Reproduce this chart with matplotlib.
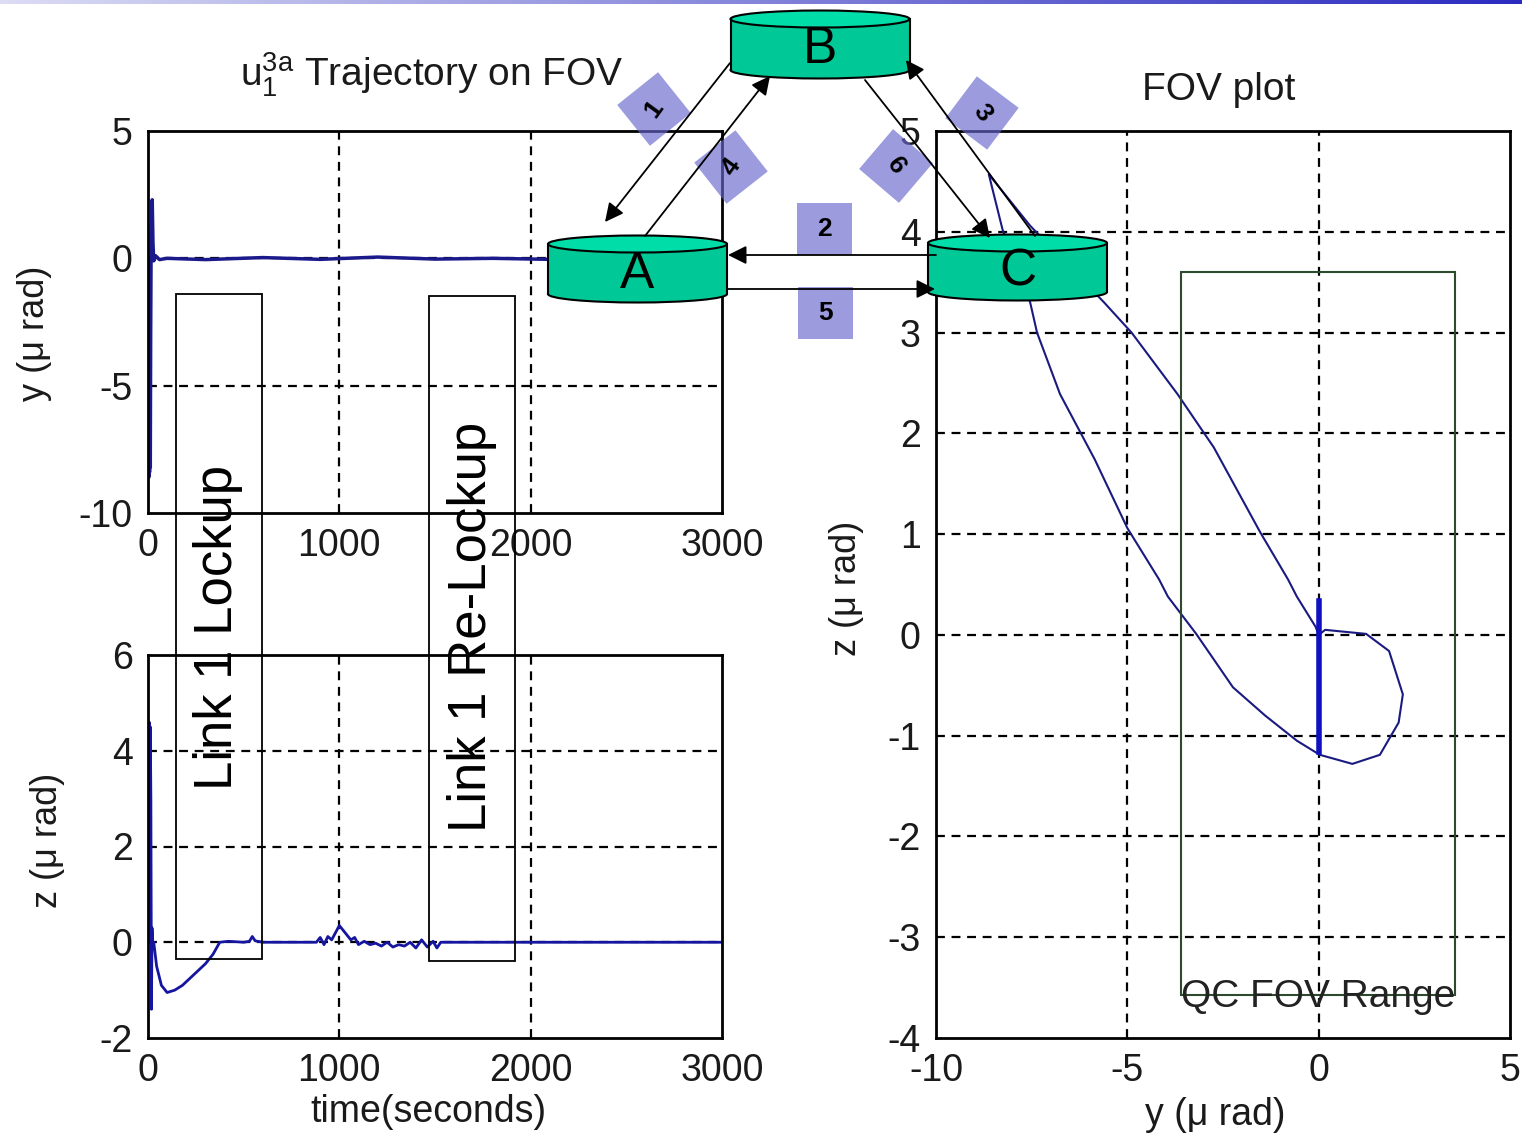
"""
FOV trajectory plots with the A/B/C link diagram laid over them.
"""
import numpy as np
import matplotlib.pyplot as plt
from matplotlib.patches import Rectangle, Ellipse, RegularPolygon
from matplotlib.colors import LinearSegmentedColormap

plt.rcParams['font.family'] = ['Liberation Sans', 'DejaVu Sans']
plt.rcParams['mathtext.fontset'] = 'custom'
plt.rcParams['mathtext.rm'] = 'Liberation Sans'
plt.rcParams['axes.unicode_minus'] = False

# y trajectory vs time
t_y = [0, 4, 6, 8, 10, 12, 14, 16, 18, 22, 26, 30, 40, 60, 100, 300, 600, 900,
       1200, 1500, 1800, 2100, 2400, 2700, 3000]
y_t = [0, -8.6, -4.3, -8.4, -4.6, -8.2, -3.0, 0.0, 1.2, 2.3, 0.6, -0.1, 0.1,
       -0.05, 0.0, -0.05, 0.03, -0.04, 0.05, -0.03, 0.0, -0.04, 0.02, 0.0, 0.0]

# z trajectory vs time
t_z = [0, 6, 9, 12, 15, 18, 21, 24, 30, 45, 70, 100, 140, 180, 220, 260, 300,
       340, 375, 420, 500, 530, 545, 560, 600, 880, 900, 920, 940, 960, 980,
       1000, 1020, 1040, 1060, 1080, 1100, 1130, 1160, 1190, 1220, 1250, 1280,
       1310, 1340, 1370, 1400, 1430, 1460, 1490, 1510, 1530, 3000]
z_t = [0, 4.6, 2.9, 4.5, 3.0, -1.4, 0.3, 0.0, 0.0, -0.5, -0.9, -1.05, -1.0,
       -0.9, -0.75, -0.6, -0.45, -0.25, 0.0, 0.02, 0.0, 0.02, 0.12, 0.03, 0.0,
       0.0, 0.1, -0.05, 0.12, 0.05, 0.2, 0.35, 0.25, 0.15, 0.05, 0.1, -0.05,
       0.02, -0.05, -0.02, -0.08, 0.0, -0.1, -0.05, -0.08, 0.0, -0.12, 0.05,
       -0.1, 0.02, -0.12, 0.0, 0.0]

# FOV path (y, z)
fov_y = [0.0, 0.17, 1.24, 1.84, 2.2, 2.09, 1.6, 0.88, 0.03, -0.57, -1.4, -2.24,
         -3.2, -3.94, -4.17, -5.0, -5.85, -6.76, -7.36, -7.54, -8.26, -8.62,
         -7.54, -5.61, -4.89, -3.69, -2.74, -1.53, -0.8, -0.57, -0.08, 0.0]
fov_z = [0.0, 0.05, 0.01, -0.16, -0.59, -0.87, -1.19, -1.28, -1.19, -1.05,
         -0.8, -0.52, 0.01, 0.38, 0.55, 1.06, 1.74, 2.39, 3.0, 3.3, 4.02, 4.57,
         4.06, 3.3, 3.0, 2.39, 1.86, 1.02, 0.55, 0.38, 0.08, 0.0]
jitter_y = [0, 0]
jitter_z = [0.34, -1.16]
qc_y = [-3.6, 3.55]
qc_z = [-3.57, 3.6]

W, H = 1522, 1141
fig = plt.figure(figsize=(15.22, 11.41), dpi=100)


def box(l, t, r, b):
    return [l / W, 1 - b / H, (r - l) / W, (b - t) / H]


def ftext(x, y, s, **kw):
    fig.text(x / W, 1 - y / H, s, ha='center', va='center', color='#1a1a1a', **kw)


DASH = (0, (4, 3))


def style(ax, xt, yt, xg, yg):
    ax.set_xticks(xt)
    ax.set_yticks(yt)
    ax.tick_params(length=0, labelsize=27, pad=11, colors='#1a1a1a')
    for s in ax.spines.values():
        s.set_linewidth(2)
    for v in xg:
        ax.axvline(v, color='k', lw=1.6, ls=DASH, zorder=1)
    for v in yg:
        ax.axhline(v, color='k', lw=1.6, ls=DASH, zorder=1)


ax1 = fig.add_axes(box(148, 131, 722, 513))
ax1.plot(t_y, y_t, color='#1a1a8c', lw=2.5, zorder=2)
ax1.set_xlim(0, 3000)
ax1.set_ylim(-10, 5)
style(ax1, [0, 1000, 2000, 3000], [-10, -5, 0, 5], [1000, 2000], [-5, 0])

ax2 = fig.add_axes(box(148, 655, 722, 1038))
ax2.plot(t_z, z_t, color='#1515a0', lw=2, zorder=2)
ax2.set_xlim(0, 3000)
ax2.set_ylim(-2, 6)
style(ax2, [0, 1000, 2000, 3000], [-2, 0, 2, 4, 6], [1000, 2000], [0, 2, 4])

ax3 = fig.add_axes(box(936, 131, 1510, 1038))
ax3.plot(fov_y, fov_z, color='#1a1a80', lw=1.5, zorder=2)
ax3.plot(jitter_y, jitter_z, color='#1010c0', lw=4, zorder=2)
ax3.add_patch(Rectangle((qc_y[0], qc_z[0]), qc_y[1] - qc_y[0], qc_z[1] - qc_z[0],
                        fill=False, ec='#2e4a2e', lw=1.5, zorder=2))
ax3.text(qc_y[0], -3.59, 'QC FOV Range', fontsize=28, color='#222222',
         ha='left', va='center', zorder=3)
ax3.set_xlim(-10, 5)
ax3.set_ylim(-4, 5)
style(ax3, [-10, -5, 0, 5], list(range(-4, 6)), [-5, 0], list(range(-3, 5)))

ftext(432, 75, r'$\mathregular{u_1^{3a}}$ Trajectory on FOV', fontsize=28)
ftext(1219, 90, 'FOV plot', fontsize=28)
ftext(35, 333, 'y (\u03bc rad)', fontsize=26, rotation=90)
ftext(48, 840, 'z (\u03bc rad)', fontsize=26, rotation=90)
ftext(847, 588, 'z (\u03bc rad)', fontsize=26, rotation=90)
ftext(428, 1112, 'time(seconds)', fontsize=27)
ftext(1215, 1115, 'y (\u03bc rad)', fontsize=27)

# gradient bar along the top edge
bar = fig.add_axes([0, 1 - 4 / H, 1, 4 / H])
bar.imshow(np.linspace(0, 1, 256)[None, :], aspect='auto',
           cmap=LinearSegmentedColormap.from_list('b', ['#dcdcf5', '#2b2bc0']))
bar.axis('off')

# diagram overlay in pixel coordinates
ov = fig.add_axes([0, 0, 1, 1])
ov.set_xlim(0, W)
ov.set_ylim(H, 0)
ov.axis('off')
ov.patch.set_alpha(0)

# link boxes
for (l, t, w, h), txt, cx in [((176, 294, 86, 665), 'Link 1 Lockup', 218),
                              ((429, 296, 86, 665), 'Link 1 Re-Lockup', 472)]:
    ov.add_patch(Rectangle((l, t), w, h, fill=False, ec='k', lw=1.3))
    ov.text(cx, 627, txt, rotation=90, fontsize=38, ha='center', va='center')

# nodes: name, centre x, top y, bottom y
nodes = [('A', 637.5, 244, 294), ('B', 820, 19, 70), ('C', 1017.5, 243, 292)]
for name, cx, top, bot in nodes:
    w, eh = 179, 17
    ov.add_patch(Ellipse((cx, bot), w, eh, fc='#00c896', ec='k', lw=1.5))
    ov.add_patch(Rectangle((cx - w / 2, top), w, bot - top, fc='#00c896', ec='none'))
    ov.plot([cx - w / 2, cx - w / 2], [top, bot], color='k', lw=1.5)
    ov.plot([cx + w / 2, cx + w / 2], [top, bot], color='k', lw=1.5)
    ov.add_patch(Ellipse((cx, top), w, eh, fc='#00dda8', ec='k', lw=1.5))
    ov.text(cx, (top + bot) / 2 + 5, name, fontsize=37, ha='center', va='center')

arrows = [((730, 63), (605, 222)), ((645, 236), (770, 76)),
          ((1035, 236), (906, 60)), ((865, 80), (990, 238)),
          ((936, 255), (728, 255)), ((728, 289), (935, 289))]
for start, end in arrows:
    ov.annotate('', xy=end, xytext=start,
                arrowprops=dict(arrowstyle='-|>', color='k', lw=1.3,
                                mutation_scale=28, shrinkA=0, shrinkB=0))

tag_fc = '#6666cc'
for lab, cx, cy, ori, rot in [('1', 654, 109, 0.11, 54), ('4', 731, 167, 0.12, 54),
                              ('3', 982, 113, -0.14, -54), ('6', 896, 166, -0.08, -54)]:
    ov.add_patch(RegularPolygon((cx, cy), 4, radius=37, orientation=ori,
                                fc=tag_fc, ec='none', alpha=0.65))
    ov.text(cx, cy, lab, rotation=rot, fontsize=19, fontweight='bold',
            ha='center', va='center')
for lab, l, t in [('2', 797, 203), ('5', 798, 287)]:
    ov.add_patch(Rectangle((l, t), 55, 52, fc=tag_fc, ec='none', alpha=0.65))
    ov.text(l + 27.5, t + 26, lab, fontsize=19, fontweight='bold',
            ha='center', va='center')

fig.savefig('out.png', dpi=100)
